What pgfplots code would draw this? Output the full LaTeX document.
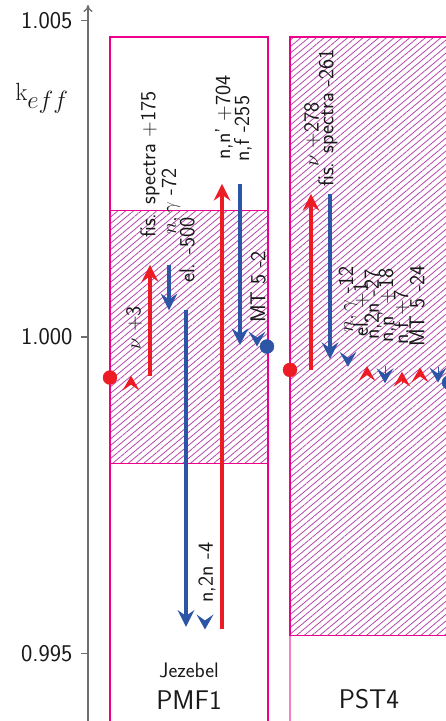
\documentclass[border=0pt]{standalone}
\usepackage{pgfplots}
\pgfplotsset{compat=1.18}
\usetikzlibrary{arrows.meta,patterns.meta}
\definecolor{mag}{RGB}{236,0,140}
\definecolor{hatchc}{RGB}{180,70,170}
\definecolor{lpink}{RGB}{245,130,200}
\definecolor{myred}{RGB}{237,28,36}
\definecolor{myblue}{RGB}{45,85,165}
\definecolor{axgray}{RGB}{110,110,110}
\definecolor{txt}{RGB}{25,25,25}
\pgfplotsset{
 bigred/.style={myred, line width=4.5pt, -{Stealth[length=17pt,width=17pt,inset=6pt,line width=0pt]}},
 bigblue/.style={myblue, line width=3.8pt, -{Stealth[length=17pt,width=17pt,inset=6pt,line width=0pt]}},
 chevred/.style={myred, line width=0.1pt, -{Stealth[length=15pt,width=17pt,inset=6pt,line width=0pt]}},
 chevblue/.style={myblue, line width=0.1pt, -{Stealth[length=15pt,width=17pt,inset=6pt,line width=0pt]}},
 hatch/.style={mag, line width=1.2pt, pattern={Lines[angle=40,distance=5pt,line width=0.8pt]}, pattern color=hatchc},
}
\tikzset{lab/.style={rotate=90, anchor=west, inner sep=0pt, font=\sffamily\fontsize{21.5}{24}\selectfont, text=txt}}
\begin{document}
\begin{tikzpicture}
\begin{axis}[
 scale only axis, width=358pt, height=716pt,
 xmin=88, xmax=446, ymin=0.993934, ymax=1.005245,
 axis x line=none, axis y line=left,
 y axis line style={axgray, line width=1.3pt, -{To[length=7pt,width=9pt]}},
 ytick={0.995,1,1.005}, yticklabels={\textsf{0.995},\textsf{1.000},\textsf{1.005}},
 tick align=outside, major tick length=7pt,
 ytick style={axgray, line width=1.1pt},
 yticklabel style={font=\fontsize{24}{27}\selectfont, text=txt, xshift=-5pt},
 scaled y ticks=false,
 clip=false,
]
% PMF1 boxes
\addplot[hatch] coordinates {(110,0.998)(268,0.998)(268,1.002)(110,1.002)} -- cycle;
\addplot[mag, line width=1.2pt] coordinates {(110,0.9938)(110,1.00474)(268,1.00474)(268,0.9938)};
% PST4 boxes
\addplot[lpink, line width=1.2pt] coordinates {(290,0.9938)(290,1.00474)(470,1.00474)};
\addplot[hatch] coordinates {(290,0.99529)(470,0.99529)(470,1.00474)(290,1.00474)} -- cycle;

% PMF1 steps
\addplot[chevred] coordinates {(131,0.99936)(131,0.99939)};
\addplot[bigred] coordinates {(150,0.99939)(150,1.00114)};
\addplot[bigblue] coordinates {(169,1.00114)(169,1.00042)};
\addplot[bigblue] coordinates {(186,1.00042)(186,0.99542)};
\addplot[chevblue] coordinates {(205,0.99542)(205,0.99538)};
\addplot[bigred] coordinates {(222,0.99538)(222,1.00242)};
\addplot[bigblue] coordinates {(240,1.00242)(240,0.99987)};
\addplot[chevblue] coordinates {(257,0.99987)(257,0.99985)};
\addplot[only marks, mark=*, mark size=7pt, myred] coordinates {(110,0.99936)};
\addplot[only marks, mark=*, mark size=7pt, myblue] coordinates {(267,0.99985)};

% PST4 steps
\addplot[bigred] coordinates {(311,0.99948)(311,1.00226)};
\addplot[bigblue] coordinates {(330,1.00226)(330,0.99965)};
\addplot[chevblue] coordinates {(348,0.99965)(348,0.99953)};
\addplot[chevred] coordinates {(367,0.99953)(367,0.99954)};
\addplot[chevblue] coordinates {(385,0.99954)(385,0.99927)};
\addplot[chevred] coordinates {(402,0.99927)(402,0.99945)};
\addplot[chevred] coordinates {(420,0.99945)(420,0.99952)};
\addplot[chevblue] coordinates {(438,0.99952)(438,0.99928)};
\addplot[only marks, mark=*, mark size=7pt, myred] coordinates {(290,0.99948)};
\addplot[only marks, mark=*, mark size=7pt, myblue] coordinates {(449,0.99928)};

% PMF1 labels
\node[lab] at (axis cs:134,0.999795) {$\nu$ +3};
\node[lab] at (axis cs:150,1.001564) {fis. spectra +175};
\node[lab] at (axis cs:171,1.001611) {$n,\gamma$ -72};
\node[lab] at (axis cs:187,1.000853) {el. -500};
\node[lab] at (axis cs:207,0.995798) {n,2n -4};
\node[lab] at (axis cs:224,1.002796) {n,n' +704};
\node[lab] at (axis cs:243,1.002765) {n,f -255};
\node[lab] at (axis cs:258,1.000221) {MT 5 -2};
% PST4 labels
\node[lab] at (axis cs:312,1.002686) {$\nu$ +278};
\node[lab] at (axis cs:328,1.002370) {fis. spectra -261};
\node[lab] at (axis cs:348,1.000063) {$n,\gamma$ -12};
\node[lab] at (axis cs:361,1.000000) {el. +1};
\node[lab] at (axis cs:373,0.999953) {n,2n -27};
\node[lab] at (axis cs:387,0.999905) {n,n' +18};
\node[lab] at (axis cs:402,0.999874) {n,f +7};
\node[lab] at (axis cs:417,0.999842) {MT 5 -24};

% names
\node[font=\sffamily\fontsize{21}{24}\selectfont, text=txt] at (axis cs:189,0.994739) {Jezebel};
\node[font=\sffamily\fontsize{27}{30}\selectfont, text=txt] at (axis cs:189,0.994265) {PMF1};
\node[font=\sffamily\fontsize{27}{30}\selectfont, text=txt] at (axis cs:369,0.994281) {PST4};
\node[font=\fontsize{37}{42}\selectfont, text=txt] at (axis cs:42,1.00377) {$\mathrm{k}_{eff}$};

\coordinate (BL) at (axis cs:0,0.993934);
\coordinate (TR) at (axis cs:446,1.005324);
\end{axis}
\pgfresetboundingbox
\useasboundingbox (BL) rectangle (TR);
\end{tikzpicture}
\end{document}
